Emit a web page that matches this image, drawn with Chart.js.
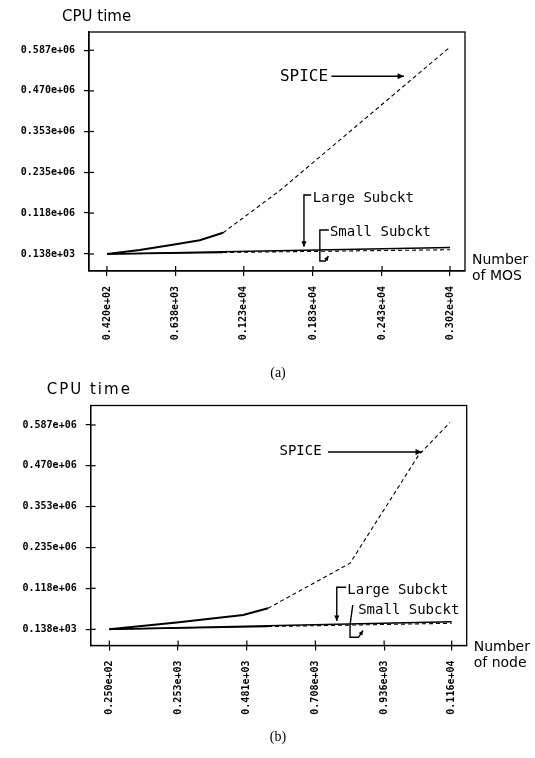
<!DOCTYPE html>
<html>
<head>
<meta charset="utf-8">
<script src="https://cdn.jsdelivr.net/npm/chart.js@4.4.1/dist/chart.umd.min.js"></script>
<style>
  html, body { margin: 0; padding: 0; background: #fff; }
  body { width: 535px; height: 758px; position: relative; overflow: hidden; }
  .panel { position: absolute; left: 0; width: 535px; }
  #panel-a { top: 0; height: 380px; }
  #panel-b { top: 380px; height: 378px; }
  .caption { position: absolute; font-family: "Liberation Serif", serif; font-size: 14px; color: #000; transform: translateX(-50%); }
</style>
</head>
<body>
<div class="panel" id="panel-a"><canvas id="chart-a" width="535" height="380"></canvas></div>
<div class="panel" id="panel-b"><canvas id="chart-b" width="535" height="378"></canvas></div>
<div class="caption" style="left:278px; top:365px;">(a)</div>
<div class="caption" style="left:278px; top:729px;">(b)</div>
<script>
// ---- (a) CPU time vs. number of MOS ----
const mosTicks = [42, 638, 1230, 1830, 2430, 3020];
const mosTickLabels = ['0.420e+02', '0.638e+03', '0.123e+04', '0.183e+04', '0.243e+04', '0.302e+04'];

const spiceMosX = [42, 326, 639, 847, 1050, 1543, 3005];
const spiceMosY = [138, 12000, 28000, 40000, 61400, 183000, 592000];
const largeMosX = [42, 1050, 3020];
const largeMosY = [138, 6700, 19000];
const smallMosX = [42, 1050, 3020];
const smallMosY = [138, 4500, 12500];
const measuredMosLimit = 1050; // past this the curves are dashed

// ---- (b) CPU time vs. number of node ----
const nodeTicks = [25, 253, 481, 708, 936, 1160];
const nodeTickLabels = ['0.250e+02', '0.253e+03', '0.481e+03', '0.708e+03', '0.936e+03', '0.116e+04'];

const spiceNodeX = [25, 248, 469, 551, 823, 1050, 1154];
const spiceNodeY = [138, 20000, 41000, 60500, 190000, 500000, 594000];
const largeNodeX = [25, 551, 1160];
const largeNodeY = [138, 10200, 22000];
const smallNodeX = [25, 551, 1160];
const smallNodeY = [138, 8000, 17400];
const measuredNodeLimit = 551;

// shared y axis (CPU time)
const cpuTicks = [138, 118000, 235000, 353000, 470000, 587000];
const cpuTickLabels = ['0.138e+03', '0.118e+06', '0.235e+06', '0.353e+06', '0.470e+06', '0.587e+06'];

const monoFont = '"DejaVu Sans Mono", monospace';
const sansFont = '"DejaVu Sans", sans-serif';

function toPoints(xs, ys) {
    return xs.map((x, i) => ({ x: x, y: ys[i] }));
}

function curve(label, xs, ys, limit, solidWidth) {
    return {
        label: label,
        data: toPoints(xs, ys),
        borderColor: '#000',
        borderWidth: solidWidth,
        pointRadius: 0,
        tension: 0,
        fill: false,
        segment: {
            borderDash: ctx => ctx.p0.parsed.x >= limit ? [4, 3] : undefined,
            borderWidth: ctx => ctx.p0.parsed.x >= limit ? 1.1 : solidWidth
        }
    };
}

function arrowHead(ctx, x0, y0, x1, y1, size) {
    const a = Math.atan2(y1 - y0, x1 - x0);
    ctx.beginPath();
    ctx.moveTo(x1, y1);
    ctx.lineTo(x1 - size * Math.cos(a - 0.45), y1 - size * Math.sin(a - 0.45));
    ctx.lineTo(x1 - size * Math.cos(a + 0.45), y1 - size * Math.sin(a + 0.45));
    ctx.closePath();
    ctx.fill();
}

// frame, inward tick halves, axis titles and the labelled arrows
const decorations = {
    id: 'decorations',
    afterDraw(chart, args, opts) {
        const { ctx, chartArea: area, scales } = chart;
        const xs = scales.x, ys = scales.y;
        ctx.save();
        ctx.strokeStyle = '#000';
        ctx.fillStyle = '#000';
        ctx.lineWidth = 1.3;
        ctx.strokeRect(area.left, area.top, area.right - area.left, area.bottom - area.top);

        ctx.lineWidth = 1.2;
        xs.ticks.forEach(t => {
            const px = xs.getPixelForValue(t.value);
            ctx.beginPath(); ctx.moveTo(px, area.bottom); ctx.lineTo(px, area.bottom - 5); ctx.stroke();
        });
        ys.ticks.forEach(t => {
            const py = ys.getPixelForValue(t.value);
            ctx.beginPath(); ctx.moveTo(area.left, py); ctx.lineTo(area.left + 5, py); ctx.stroke();
        });

        // y title
        ctx.font = '15px ' + sansFont;
        ctx.textBaseline = 'middle';
        ctx.textAlign = 'left';
        ctx.letterSpacing = opts.yTitleSpacing;
        ctx.fillText('CPU time', area.left + opts.yTitleDx, area.top + opts.yTitleDy);
        ctx.letterSpacing = '0px';

        // x title, right of the axis
        ctx.font = '14px ' + sansFont;
        opts.xTitle.forEach((line, i) => {
            ctx.fillText(line, area.right + 7, area.bottom + opts.xTitleDy + i * 16);
        });

        // annotations (anchored in data units)
        opts.notes.forEach(n => {
            ctx.font = n.size + 'px ' + monoFont;
            ctx.fillText(n.text, xs.getPixelForValue(n.x), ys.getPixelForValue(n.y));
            const pts = n.path.map(p => [xs.getPixelForValue(p[0]), ys.getPixelForValue(p[1])]);
            ctx.lineWidth = n.width;
            ctx.beginPath();
            pts.forEach((p, i) => i ? ctx.lineTo(p[0], p[1]) : ctx.moveTo(p[0], p[1]));
            ctx.stroke();
            const a = pts[pts.length - 2], b = pts[pts.length - 1];
            arrowHead(ctx, a[0], a[1], b[0], b[1], n.head);
        });
        ctx.restore();
    }
};

function makeChart(id, cfg) {
    const tickFont = { family: monoFont, size: 10, weight: 'bold' };
    return new Chart(document.getElementById(id), {
        type: 'line',
        data: { datasets: cfg.datasets },
        options: {
            responsive: false,
            animation: false,
            layout: { padding: { top: cfg.padTop, right: cfg.padRight, left: 0, bottom: 0 } },
            plugins: {
                legend: { display: false },
                tooltip: { enabled: false },
                decorations: cfg.decor
            },
            scales: {
                x: {
                    type: 'linear',
                    min: cfg.xMin, max: cfg.xMax,
                    afterBuildTicks: s => { s.ticks = cfg.xTicks.map(v => ({ value: v })); },
                    afterFit: s => { s.height = cfg.xAxisHeight; },
                    ticks: {
                        autoSkip: false, minRotation: 90, maxRotation: 90, padding: 10,
                        color: '#000', font: tickFont,
                        callback: (v, i) => cfg.xLabels[i]
                    },
                    grid: { drawOnChartArea: false, drawTicks: true, tickLength: 5, color: '#000', lineWidth: 1.2 },
                    border: { display: true, color: '#000', width: 1.3 }
                },
                y: {
                    type: 'linear',
                    min: cfg.yMin, max: cfg.yMax,
                    afterBuildTicks: s => { s.ticks = cpuTicks.map(v => ({ value: v })); },
                    afterFit: s => { s.width = cfg.yAxisWidth; },
                    ticks: {
                        autoSkip: false, padding: 9,
                        color: '#000', font: tickFont,
                        callback: (v, i) => cpuTickLabels[i]
                    },
                    grid: { drawOnChartArea: false, drawTicks: true, tickLength: 5, color: '#000', lineWidth: 1.2 },
                    border: { display: true, color: '#000', width: 1.3 }
                }
            }
        },
        plugins: [decorations]
    });
}

makeChart('chart-a', {
    datasets: [
        curve('SPICE', spiceMosX, spiceMosY, measuredMosLimit, 2),
        curve('Large Subckt', largeMosX, largeMosY, Infinity, 1.6),
        curve('Small Subckt', smallMosX, smallMosY, measuredMosLimit, 1.6)
    ],
    xTicks: mosTicks, xLabels: mosTickLabels,
    xMin: -114, xMax: 3150, yMin: -48800, yMax: 639600,
    padTop: 32, padRight: 70, yAxisWidth: 89, xAxisHeight: 109,
    decor: {
        yTitleDx: -27, yTitleDy: -15, yTitleSpacing: '0px',
        xTitle: ['Number', 'of MOS'], xTitleDy: -11,
        notes: [
            { text: 'SPICE', size: 16, x: 1543, y: 510000, width: 1.6, head: 7,
              path: [[1990, 512000], [2620, 512000]] },
            { text: 'Large Subckt', size: 14, x: 1829, y: 161000, width: 1.4, head: 6,
              path: [[1815, 170000], [1752, 170000], [1752, 21000]] },
            { text: 'Small Subckt', size: 14, x: 1977, y: 61400, width: 1.4, head: 5,
              path: [[1968, 69200], [1890, 69200], [1890, -20000], [1938, -20000], [1964, -5600]] }
        ]
    }
});

makeChart('chart-b', {
    datasets: [
        curve('SPICE', spiceNodeX, spiceNodeY, measuredNodeLimit, 2),
        curve('Large Subckt', largeNodeX, largeNodeY, Infinity, 1.6),
        curve('Small Subckt', smallNodeX, smallNodeY, measuredNodeLimit, 1.6)
    ],
    xTicks: nodeTicks, xLabels: nodeTickLabels,
    xMin: -36.7, xMax: 1209.7, yMin: -46400, yMax: 643000,
    padTop: 25.5, padRight: 68.3, yAxisWidth: 90.7, xAxisHeight: 112.5,
    decor: {
        yTitleDx: -44, yTitleDy: -15.5, yTitleSpacing: '2px',
        xTitle: ['Number', 'of node'], xTitleDy: 1.5,
        notes: [
            { text: 'SPICE', size: 14, x: 589, y: 510300, width: 1.6, head: 7,
              path: [[750, 509400], [1061, 509400]] },
            { text: 'Large Subckt', size: 14, x: 814, y: 113000, width: 1.4, head: 6,
              path: [[810, 121000], [779, 121000], [779, 24000]] },
            { text: 'Small Subckt', size: 14, x: 850, y: 53600, width: 1.4, head: 5,
              path: [[832, 69900], [823, 12500], [823, -22800], [851, -22800], [866, -3300]] }
        ]
    }
});
</script>
</body>
</html>
